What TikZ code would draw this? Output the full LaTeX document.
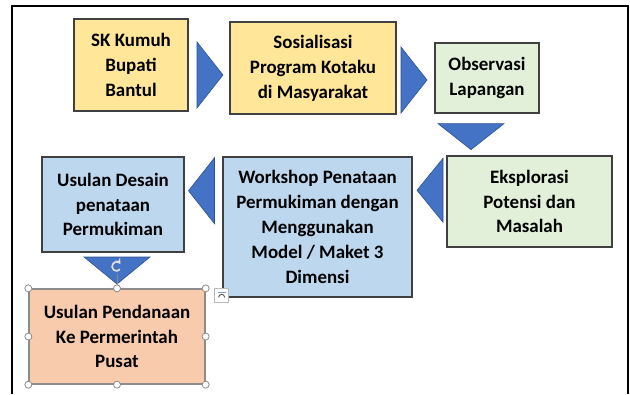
\documentclass[tikz,border=0pt]{standalone}
\usepackage{fontspec}
\setmainfont{Carlito}
\usetikzlibrary{calc}
\definecolor{skyellow}{HTML}{FFE699}
\definecolor{obsgreen}{HTML}{E2F0D9}
\definecolor{wsblue}{HTML}{BDD7EE}
\definecolor{fundorange}{HTML}{F8CBAD}
\definecolor{arrowblue}{HTML}{4472C4}
\definecolor{arrowedge}{HTML}{2F528F}
\definecolor{boxedge}{HTML}{404040}
\definecolor{handlegrey}{HTML}{8C8C8C}

\begin{document}
\begin{tikzpicture}[x=1bp,y=-1bp,
    stepbox/.style={draw=boxedge,line width=1.3bp,align=center,inner sep=0pt,font={\fontsize{19}{25}\selectfont\bfseries}},
    blockarrow/.style={fill=arrowblue,draw=arrowedge,line width=0.6bp},
    handle/.style={circle,draw=handlegrey,fill=white,line width=0.8bp,inner sep=0pt,minimum size=7bp}]
                \useasboundingbox (0,0) rectangle (630,394);
                \draw[line width=2bp] (12,394) -- (12,6) -- (628,6) -- (628,394);

                \node[stepbox,fill=skyellow,minimum width=114bp,minimum height=92bp] (sk) at (131,65) {SK Kumuh\\Bupati\\Bantul};
                \node[stepbox,fill=skyellow,minimum width=166bp,minimum height=92bp] (sos) at (313,68) {Sosialisasi\\Program Kotaku\\di Masyarakat};
                \node[stepbox,fill=obsgreen,minimum width=104bp,minimum height=70bp] (obs) at (487,78) {Observasi\\Lapangan};
                \node[stepbox,fill=obsgreen,minimum width=165bp,minimum height=91bp] (eks) at (529.5,201.5) {Eksplorasi\\Potensi dan\\Masalah};
                \node[stepbox,fill=wsblue,minimum width=189bp,minimum height=140bp] (work) at (317.5,227) {Workshop Penataan\\Permukiman dengan\\Menggunakan\\Model / Maket 3\\Dimensi};
                \node[stepbox,fill=wsblue,minimum width=142bp,minimum height=95bp] (usd) at (113,204.5) {Usulan Desain\\penataan\\Permukiman};
                \node[stepbox,fill=fundorange,draw=handlegrey,minimum width=176bp,minimum height=95bp] (usp) at (117,336.5) {Usulan Pendanaan\\Ke Permerintah\\Pusat};

                % block arrows between the steps
                \fill[blockarrow,shift={($(sk.east)!.5!(sos.west)+(1,8.5)$)}] (-13,-33) -- (13,0) -- (-13,33) -- cycle;
                \fill[blockarrow,shift={($(sos.east)!.5!(obs.west)+(-1.5,7)$)}] (-13,-33) -- (13,0) -- (-13,33) -- cycle;
                \fill[blockarrow,shift={($(obs.south)+(-16,23)$)}] (-33,-13) -- (33,-13) -- (0,13) -- cycle;
                \fill[blockarrow,shift={($(eks.west)!.5!(work.east)+(0.5,-24)$)}] (13,-32) -- (-13,0) -- (13,32) -- cycle;
                \fill[blockarrow,shift={($(work.west)!.5!(usd.east)+(-2,-25)$)}] (13,-33) -- (-13,0) -- (13,33) -- cycle;
                \fill[blockarrow,shift={($(usd.south)!.5!(usp.north)+(2,0)$)}] (-33,-13.5) -- (33,-13.5) -- (0,13.5) -- cycle;

                % selection handles
                \draw[handlegrey,line width=0.8bp] (usp.north) -- ++(0,-14) coordinate (rot);
                \draw[white!75!handlegrey,line width=1.6bp,-stealth] ($(rot)+(3,-5)$) arc[start angle=40,end angle=330,radius=4.5];
                \foreach \a in {north west,north,north east,east,south east,south,south west,west}
                    \node[handle] at (usp.\a) {};
                \node[draw=handlegrey!60,fill=white,minimum size=14bp,inner sep=0pt] (layout) at ($(usp.north east)+(16,7)$) {};
                \draw[arrowblue!70,line width=0.8bp] ($(layout.center)+(-4,-3)$) -- ($(layout.center)+(4,-3)$);
                \draw[boxedge,line width=0.8bp] ($(layout.center)+(-3,2)$) arc[start angle=180,end angle=360,radius=3];
            \end{tikzpicture}
\end{document}
